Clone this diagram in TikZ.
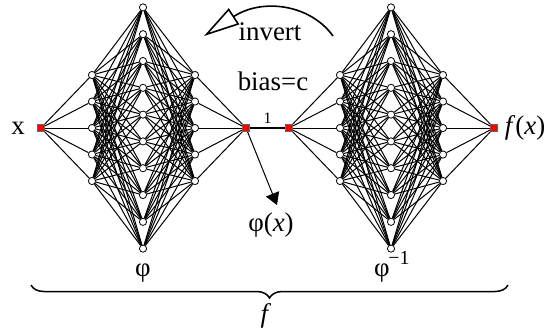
\documentclass[tikz,border=0pt]{standalone}
\usepackage{fontspec}
\setmainfont{Liberation Serif}
\usetikzlibrary{arrows.meta,decorations.pathreplacing}

\begin{document}
\begin{tikzpicture}[yscale=-1,x=0.5bp,y=0.5bp,
    neuron/.style={circle,draw,fill=white,inner sep=0pt,minimum size=3.6bp,line width=0.4bp},
    port/.style={rectangle,draw=black!60,fill=red,inner sep=0pt,minimum size=3.6bp,line width=0.3bp},
    wire/.style={line width=0.5bp},
    lbl/.style={font=\fontsize{13.5}{16}\selectfont,inner sep=1bp}]

  \useasboundingbox (0,0) rectangle (554,331);

  % ======================================================================
  % Zwei Netze: links phi, rechts phi^{-1} (um 248 verschoben)
  % ======================================================================
  \foreach \n/\dx in {l/0,r/248} {
    \node[port] (\n in) at (41+\dx,128) {};
    \foreach \i in {1,...,5}
      \node[neuron] (\n1-\i) at (92+\dx,{128+(\i-3)*26.5}) {};
    \foreach \i in {1,...,10}
      \node[neuron] (\n2-\i) at (143+\dx,{128+(\i-5.5)*26.8}) {};
    \foreach \i in {1,...,5}
      \node[neuron] (\n3-\i) at (195+\dx,{128+(\i-3)*26.5}) {};
    \node[port] (\n out) at (246+\dx,128) {};

    % --- vollstaendig verbundene Schichten ---
    \foreach \i in {1,...,5} {
      \draw[wire] (\n in) -- (\n1-\i);
      \draw[wire] (\n3-\i) -- (\n out);
      \foreach \j in {1,...,10} {
        \draw[wire] (\n1-\i) -- (\n2-\j);
        \draw[wire] (\n2-\j) -- (\n3-\i);
      }
    }
  }

  % --- Verbindung in der Mitte mit Gewicht 1 ---
  \draw[line width=1bp] (lout) -- node[above,font=\fontsize{8}{9}\selectfont,inner sep=2bp] (w) {1} (rin);

  % --- Ausgang phi(x) ---
  \coordinate (phitip) at (277,205);
  \draw[wire,-{Triangle[length=6bp,width=7bp]}] (lout) -- (phitip);
  \node[lbl] (phix) at (271,225) {φ(\textit{x})};

  % --- Pfeil "invert" ---
  \coordinate (invs) at (333,36);
  \coordinate (inve) at (204,36);
  \draw[line width=0.8bp,-{Triangle[open,length=18bp,width=9.5bp,line width=0.8bp]}]
    (invs) .. controls (310,4) and (262,-2) .. (inve);
  \node[lbl] (inv) at (270,32) {invert};
  \node[lbl] (bias) at (273,81) {bias=c};

  % --- Beschriftungen ---
  \node[lbl] (xin) at (18,128) {x};
  \node[lbl] (fx) at (525,128) {\textit{f}(\textit{x})};
  \node[lbl] (phi) at (143,273) {φ};
  \node[lbl] (phiinv) at (382,273) {φ};
  \node[font=\fontsize{10}{12}\selectfont,inner sep=1bp] (minus1) at (399,258) {−1};

  % --- Klammer fuer f ---
  \draw[decorate,decoration={brace,amplitude=6.5bp,mirror},line width=0.75bp] (31,285) -- (508,285);
  \node[lbl] (f) at (266,316) {\textit{f}};

\end{tikzpicture}
\end{document}
